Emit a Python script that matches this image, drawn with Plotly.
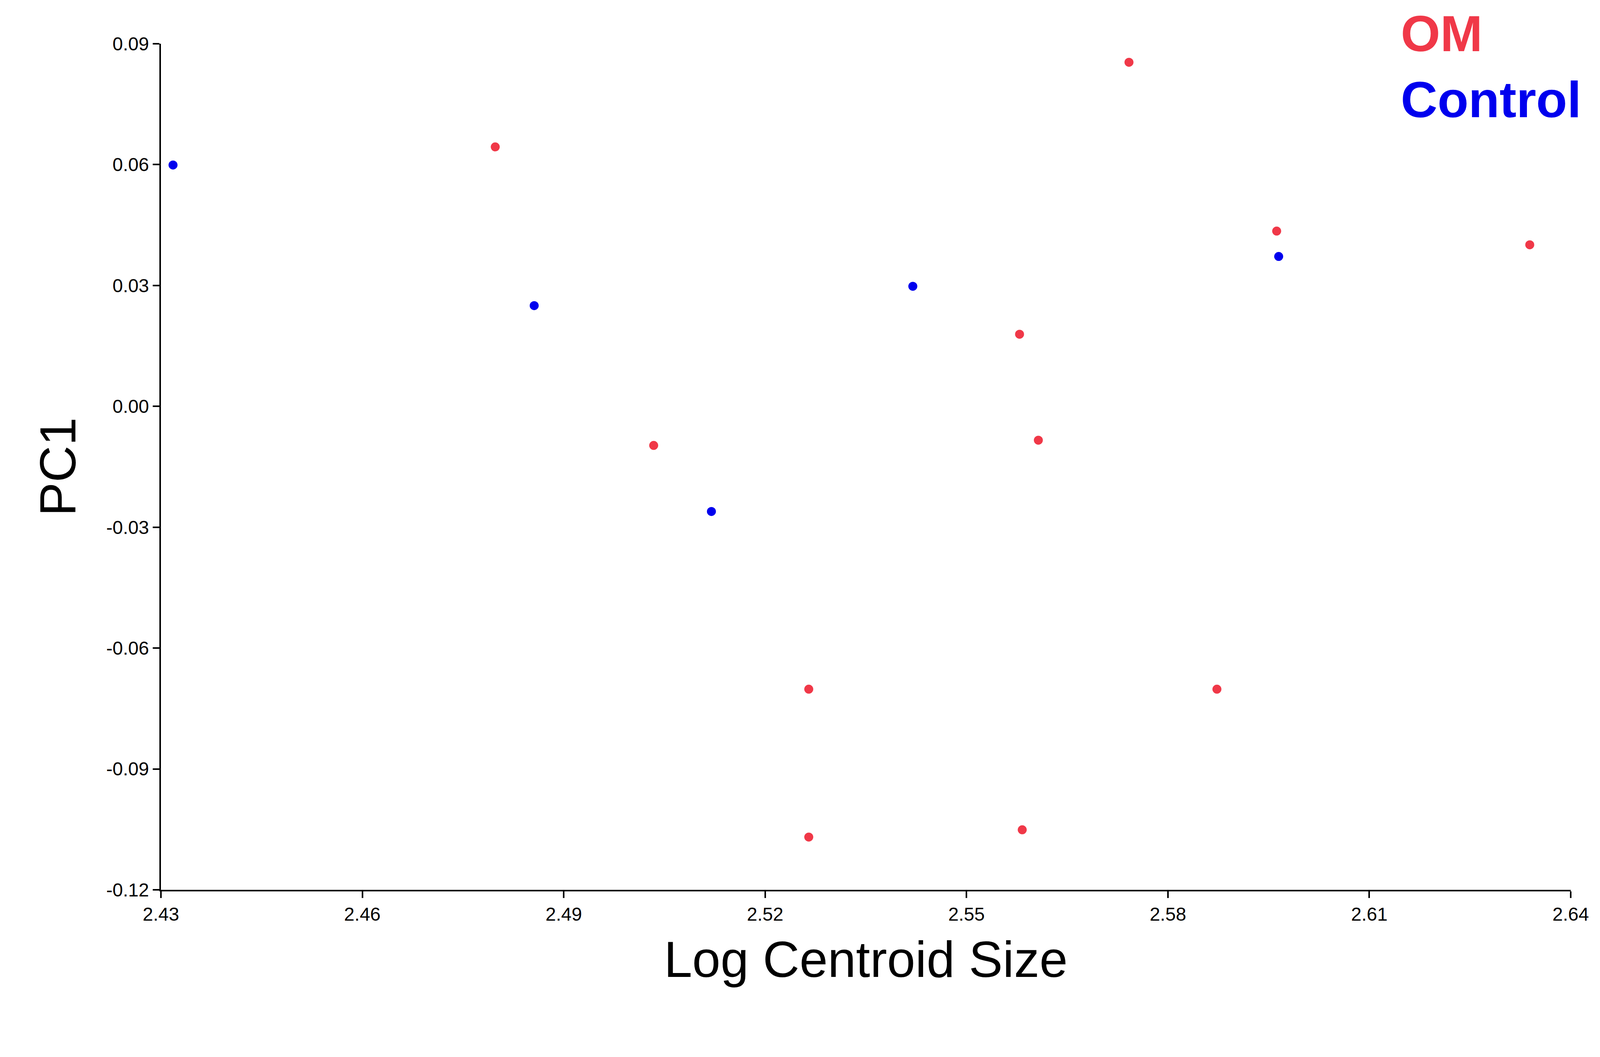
import plotly.graph_objects as go

om_x = [2.4798, 2.5742, 2.5962, 2.6339, 2.5579, 2.5034, 2.5607, 2.5265, 2.5873, 2.5265, 2.5583]
om_y = [0.0644, 0.0854, 0.0435, 0.0401, 0.0179, -0.0097, -0.0084, -0.0702, -0.0702, -0.1069, -0.1051]
ctrl_x = [2.4318, 2.4856, 2.5420, 2.5120, 2.5965]
ctrl_y = [0.0599, 0.0250, 0.0298, -0.0261, 0.0372]
xticks = [2.43, 2.46, 2.49, 2.52, 2.55, 2.58, 2.61, 2.64]
yticks = [-0.12, -0.09, -0.06, -0.03, 0.00, 0.03, 0.06, 0.09]
red = "#f03848"
blue = "#0000ee"

fig = go.Figure()
fig.add_trace(go.Scatter(x=om_x, y=om_y, mode="markers", marker=dict(color=red, size=23), name="OM", cliponaxis=False))
fig.add_trace(go.Scatter(x=ctrl_x, y=ctrl_y, mode="markers", marker=dict(color=blue, size=23), name="Control", cliponaxis=False))

ax = dict(showgrid=False, zeroline=False, showline=True, linecolor="black", linewidth=4,
          ticks="outside", ticklen=17, tickwidth=4, tickcolor="black",
          tickfont=dict(family="Liberation Sans", size=48, color="black"))
fig.update_xaxes(**ax, range=[2.43, 2.64], tickvals=xticks, ticktext=[f"{v:.2f}" for v in xticks],
                 title=dict(text="Log Centroid Size", font=dict(family="Liberation Sans", size=130, color="black"), standoff=45))
fig.update_yaxes(**ax, range=[-0.12, 0.09], tickvals=yticks, ticktext=[f"{v:.2f}" for v in yticks],
                 title=dict(text="PC1", font=dict(family="Liberation Sans", size=130, color="black"), standoff=35))
fig.add_annotation(x=0.879, y=1.012, xref="paper", yref="paper", xanchor="left", yanchor="middle",
                   text="<b>OM</b>", showarrow=False,
                   font=dict(family="Liberation Sans", size=130, color=red))
fig.add_annotation(x=0.879, y=0.934, xref="paper", yref="paper", xanchor="left", yanchor="middle",
                   text="<b>Control</b>", showarrow=False,
                   font=dict(family="Liberation Sans", size=130, color=blue))
fig.update_layout(width=4094, height=2611, showlegend=False, plot_bgcolor="white", paper_bgcolor="white",
                  margin=dict(l=404, r=81, t=104, b=341))
fig.write_html("out.html")
